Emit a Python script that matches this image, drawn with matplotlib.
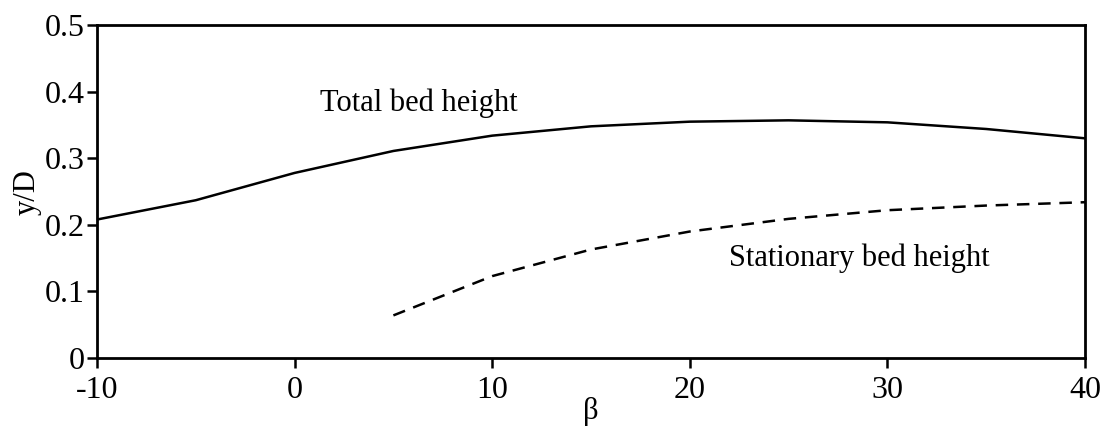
import matplotlib
matplotlib.use("Agg")
import matplotlib.pyplot as plt

# bed height vs inclination angle
beta_total = [-10, -5, 0, 5, 10, 15, 20, 25, 30, 35, 40]
total_height = [0.208, 0.237, 0.278, 0.311, 0.334, 0.348, 0.355, 0.357, 0.354, 0.344, 0.330]

beta_stat = [5, 10, 15, 20, 25, 30, 35, 40]
stat_height = [0.064, 0.123, 0.163, 0.190, 0.209, 0.222, 0.229, 0.234]

xticks = [-10, 0, 10, 20, 30, 40]
yticks = [0, 0.1, 0.2, 0.3, 0.4, 0.5]
ytick_labels = ["0", "0.1", "0.2", "0.3", "0.4", "0.5"]

plt.rcParams["font.family"] = ["Liberation Serif", "DejaVu Serif"]
plt.rcParams["axes.unicode_minus"] = False

fig = plt.figure(figsize=(11.06, 4.26), dpi=100)
ax = fig.add_axes([0.0877, 0.1596, 0.8933, 0.7814])

ax.plot(beta_total, total_height, color="black", lw=1.8)
ax.plot(beta_stat, stat_height, color="black", lw=1.8, dashes=(5, 3.5))

ax.text(1.3, 0.383, "Total bed height", fontsize=22, va="center", ha="left")
ax.text(22.0, 0.150, "Stationary bed height", fontsize=22, va="center", ha="left")

ax.set_xlim(-10, 40)
ax.set_ylim(0, 0.5)
ax.set_xticks(xticks)
ax.set_yticks(yticks)
ax.set_yticklabels(ytick_labels)
ax.tick_params(direction="out", length=7, width=1.8, labelsize=23)
ax.tick_params(axis="x", pad=6)
ax.tick_params(axis="y", pad=2)

for s in ax.spines.values():
    s.set_linewidth(2)

ax.set_xlabel("β", fontsize=22, labelpad=-6)
ax.set_ylabel("y/D", fontsize=22, labelpad=2)

fig.savefig("out.png", dpi=100)
